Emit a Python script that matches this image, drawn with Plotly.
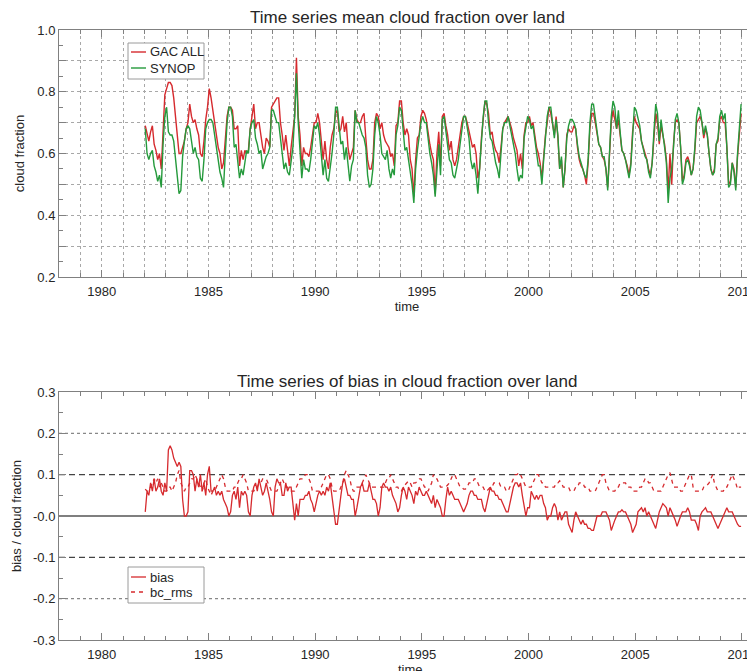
import plotly.graph_objects as go

# ---------------- data (monthly, Jan..Dec for each year) ----------------
YEARS = list(range(1982, 2010))

GAC_ALL = [
    0.69, 0.66, 0.64, 0.67, 0.69, 0.63, 0.61, 0.58, 0.60, 0.55, 0.70, 0.79,  # 1982
    0.81, 0.83, 0.83, 0.82, 0.78, 0.72, 0.66, 0.60, 0.60, 0.62, 0.64, 0.68,  # 1983
    0.70, 0.76, 0.72, 0.70, 0.71, 0.68, 0.66, 0.60, 0.59, 0.64, 0.71, 0.75,  # 1984
    0.81, 0.78, 0.74, 0.70, 0.66, 0.62, 0.60, 0.55, 0.57, 0.66, 0.72, 0.75,  # 1985
    0.75, 0.74, 0.68, 0.68, 0.69, 0.56, 0.61, 0.58, 0.61, 0.60, 0.61, 0.68,  # 1986
    0.72, 0.76, 0.68, 0.70, 0.70, 0.65, 0.62, 0.60, 0.65, 0.64, 0.62, 0.75,  # 1987
    0.76, 0.77, 0.78, 0.78, 0.70, 0.66, 0.61, 0.66, 0.60, 0.56, 0.62, 0.68,  # 1988
    0.72, 0.91, 0.72, 0.66, 0.56, 0.62, 0.60, 0.60, 0.59, 0.62, 0.66, 0.70,  # 1989
    0.70, 0.73, 0.70, 0.65, 0.58, 0.64, 0.58, 0.55, 0.62, 0.66, 0.68, 0.73,  # 1990
    0.74, 0.67, 0.68, 0.72, 0.67, 0.70, 0.62, 0.58, 0.60, 0.62, 0.74, 0.71,  # 1991
    0.70, 0.70, 0.72, 0.73, 0.65, 0.58, 0.55, 0.55, 0.58, 0.70, 0.73, 0.72,  # 1992
    0.68, 0.70, 0.66, 0.64, 0.63, 0.62, 0.59, 0.60, 0.56, 0.69, 0.70, 0.77,  # 1993
    0.77, 0.70, 0.66, 0.68, 0.66, 0.58, 0.55, 0.46, 0.58, 0.65, 0.66, 0.72,  # 1994
    0.74, 0.73, 0.71, 0.66, 0.63, 0.60, 0.58, 0.47, 0.60, 0.67, 0.56, 0.72,  # 1995
    0.73, 0.69, 0.66, 0.61, 0.64, 0.58, 0.56, 0.58, 0.62, 0.65, 0.70, 0.72,  # 1996
    0.72, 0.70, 0.67, 0.65, 0.62, 0.63, 0.60, 0.52, 0.55, 0.65, 0.72, 0.77,  # 1997
    0.76, 0.73, 0.66, 0.67, 0.63, 0.61, 0.60, 0.57, 0.62, 0.68, 0.70, 0.71,  # 1998
    0.72, 0.70, 0.68, 0.65, 0.63, 0.61, 0.56, 0.60, 0.55, 0.66, 0.70, 0.70,  # 1999
    0.72, 0.69, 0.70, 0.66, 0.62, 0.60, 0.57, 0.52, 0.60, 0.66, 0.70, 0.75,  # 2000
    0.73, 0.70, 0.66, 0.72, 0.65, 0.55, 0.58, 0.49, 0.55, 0.66, 0.68, 0.67,  # 2001
    0.67, 0.69, 0.68, 0.62, 0.58, 0.56, 0.55, 0.53, 0.50, 0.57, 0.68, 0.73,  # 2002
    0.73, 0.70, 0.66, 0.63, 0.62, 0.59, 0.58, 0.55, 0.49, 0.60, 0.70, 0.74,  # 2003
    0.71, 0.68, 0.71, 0.65, 0.61, 0.60, 0.58, 0.56, 0.53, 0.57, 0.67, 0.72,  # 2004
    0.70, 0.69, 0.68, 0.64, 0.62, 0.60, 0.58, 0.55, 0.53, 0.57, 0.65, 0.73,  # 2005
    0.70, 0.63, 0.69, 0.66, 0.63, 0.58, 0.48, 0.60, 0.50, 0.63, 0.70, 0.71,  # 2006
    0.70, 0.62, 0.51, 0.53, 0.58, 0.59, 0.57, 0.53, 0.55, 0.61, 0.70, 0.71,  # 2007
    0.72, 0.70, 0.65, 0.68, 0.66, 0.60, 0.55, 0.53, 0.55, 0.63, 0.64, 0.71,  # 2008
    0.72, 0.70, 0.70, 0.62, 0.50, 0.51, 0.57, 0.55, 0.49, 0.59, 0.67, 0.73,  # 2009
]

SYNOP = [
    0.68, 0.60, 0.58, 0.60, 0.61, 0.56, 0.54, 0.51, 0.53, 0.49, 0.63, 0.72,  # 1982
    0.75, 0.67, 0.66, 0.66, 0.64, 0.59, 0.54, 0.47, 0.48, 0.59, 0.64, 0.68,  # 1983
    0.69, 0.68, 0.64, 0.60, 0.62, 0.59, 0.58, 0.52, 0.51, 0.58, 0.68, 0.70,  # 1984
    0.71, 0.71, 0.70, 0.66, 0.62, 0.58, 0.54, 0.52, 0.49, 0.60, 0.70, 0.75,  # 1985
    0.75, 0.72, 0.62, 0.63, 0.58, 0.52, 0.55, 0.53, 0.57, 0.61, 0.60, 0.68,  # 1986
    0.70, 0.71, 0.65, 0.63, 0.60, 0.61, 0.55, 0.57, 0.59, 0.60, 0.62, 0.74,  # 1987
    0.74, 0.72, 0.70, 0.70, 0.65, 0.60, 0.55, 0.57, 0.54, 0.53, 0.58, 0.62,  # 1988
    0.72, 0.86, 0.70, 0.62, 0.52, 0.58, 0.55, 0.55, 0.54, 0.58, 0.63, 0.69,  # 1989
    0.68, 0.70, 0.66, 0.60, 0.53, 0.58, 0.52, 0.51, 0.55, 0.60, 0.66, 0.75,  # 1990
    0.75, 0.68, 0.63, 0.64, 0.58, 0.62, 0.56, 0.51, 0.56, 0.58, 0.74, 0.70,  # 1991
    0.70, 0.68, 0.66, 0.65, 0.62, 0.53, 0.49, 0.50, 0.55, 0.66, 0.72, 0.70,  # 1992
    0.66, 0.60, 0.59, 0.58, 0.61, 0.55, 0.52, 0.55, 0.53, 0.66, 0.69, 0.75,  # 1993
    0.74, 0.66, 0.61, 0.62, 0.58, 0.53, 0.50, 0.44, 0.55, 0.61, 0.65, 0.70,  # 1994
    0.72, 0.70, 0.70, 0.64, 0.60, 0.57, 0.53, 0.46, 0.55, 0.63, 0.53, 0.71,  # 1995
    0.72, 0.67, 0.63, 0.58, 0.57, 0.53, 0.52, 0.55, 0.58, 0.63, 0.68, 0.72,  # 1996
    0.72, 0.68, 0.65, 0.58, 0.55, 0.57, 0.53, 0.47, 0.55, 0.65, 0.72, 0.77,  # 1997
    0.77, 0.70, 0.65, 0.64, 0.60, 0.57, 0.55, 0.52, 0.60, 0.68, 0.70, 0.70,  # 1998
    0.72, 0.69, 0.66, 0.63, 0.60, 0.55, 0.51, 0.53, 0.52, 0.65, 0.68, 0.72,  # 1999
    0.71, 0.68, 0.69, 0.64, 0.60, 0.56, 0.56, 0.50, 0.58, 0.65, 0.72, 0.75,  # 2000
    0.75, 0.70, 0.65, 0.71, 0.66, 0.55, 0.59, 0.49, 0.55, 0.65, 0.69, 0.71,  # 2001
    0.71, 0.70, 0.68, 0.63, 0.59, 0.57, 0.55, 0.53, 0.52, 0.58, 0.70, 0.76,  # 2002
    0.76, 0.72, 0.67, 0.63, 0.62, 0.59, 0.59, 0.55, 0.48, 0.60, 0.72, 0.77,  # 2003
    0.75, 0.68, 0.74, 0.67, 0.61, 0.60, 0.58, 0.55, 0.52, 0.56, 0.68, 0.75,  # 2004
    0.74, 0.71, 0.69, 0.64, 0.61, 0.59, 0.58, 0.54, 0.52, 0.57, 0.67, 0.76,  # 2005
    0.73, 0.64, 0.71, 0.67, 0.62, 0.57, 0.44, 0.52, 0.55, 0.62, 0.71, 0.73,  # 2006
    0.70, 0.62, 0.50, 0.52, 0.57, 0.58, 0.56, 0.53, 0.55, 0.62, 0.72, 0.75,  # 2007
    0.74, 0.70, 0.66, 0.69, 0.66, 0.60, 0.55, 0.53, 0.54, 0.63, 0.65, 0.72,  # 2008
    0.74, 0.71, 0.73, 0.62, 0.49, 0.50, 0.57, 0.54, 0.48, 0.60, 0.69, 0.76,  # 2009
]

BIAS = [
    0.01, 0.06, 0.05, 0.08, 0.06, 0.09, 0.06, 0.07, 0.09, 0.06, 0.05, 0.08,  # 1982
    0.06, 0.16, 0.17, 0.16, 0.14, 0.13, 0.12, 0.13, 0.12, 0.04, 0.00, 0.00,  # 1983
    0.01, 0.11, 0.11, 0.10, 0.06, 0.09, 0.07, 0.10, 0.06, 0.08, 0.05, 0.10,  # 1984
    0.12, 0.06, 0.06, 0.07, 0.05, 0.06, 0.05, 0.06, 0.04, 0.03, 0.02, 0.00,  # 1985
    0.01, 0.05, 0.06, 0.04, 0.07, 0.02, 0.06, 0.05, 0.06, 0.05, 0.01, 0.00,  # 1986
    0.05, 0.07, 0.08, 0.06, 0.09, 0.07, 0.05, 0.06, 0.08, 0.06, 0.04, 0.01,  # 1987
    0.00, 0.07, 0.09, 0.08, 0.08, 0.05, 0.05, 0.08, 0.06, 0.07, 0.07, 0.03,  # 1988
    -0.01, 0.03, 0.00, 0.04, 0.04, 0.04, 0.05, 0.05, 0.06, 0.04, 0.03, 0.01,  # 1989
    0.03, 0.05, 0.06, 0.05, 0.06, 0.05, 0.07, 0.06, 0.08, 0.05, 0.02, -0.02,  # 1990
    -0.02, 0.02, 0.05, 0.08, 0.09, 0.07, 0.05, 0.05, 0.04, 0.04, 0.00, 0.02,  # 1991
    0.05, 0.07, 0.08, 0.06, 0.06, 0.06, 0.08, 0.06, 0.04, 0.04, 0.03, 0.00,  # 1992
    0.02, 0.07, 0.08, 0.07, 0.07, 0.06, 0.07, 0.05, 0.04, 0.03, 0.01, 0.02,  # 1993
    0.05, 0.07, 0.06, 0.04, 0.07, 0.06, 0.05, 0.03, 0.06, 0.05, 0.07, 0.06,  # 1994
    0.05, 0.05, 0.06, 0.05, 0.04, 0.03, 0.05, 0.02, 0.04, 0.03, 0.02, 0.00,  # 1995
    0.00, 0.04, 0.07, 0.05, 0.06, 0.05, 0.04, 0.04, 0.04, 0.03, 0.02, 0.01,  # 1996
    0.02, 0.03, 0.05, 0.06, 0.06, 0.05, 0.05, 0.04, 0.04, 0.04, 0.02, 0.01,  # 1997
    0.03, 0.05, 0.07, 0.06, 0.06, 0.05, 0.05, 0.04, 0.04, 0.03, 0.02, 0.01,  # 1998
    0.01, 0.03, 0.05, 0.07, 0.08, 0.08, 0.07, 0.08, 0.05, 0.02, 0.00, 0.02,  # 1999
    0.02, 0.06, 0.05, 0.04, 0.05, 0.04, 0.05, 0.05, 0.03, 0.02, -0.01, 0.00,  # 2000
    0.00, 0.02, 0.03, 0.02, -0.01, 0.01, -0.01, 0.00, 0.01, 0.01, -0.02, -0.03,  # 2001
    -0.04, -0.01, 0.01, 0.00, -0.01, -0.02, -0.01, -0.02, -0.02, -0.03, -0.03, -0.035,  # 2002
    -0.035, -0.02, 0.00, 0.00, 0.00, 0.01, 0.01, 0.01, 0.00, -0.01, -0.035, -0.02,  # 2003
    -0.01, 0.00, 0.01, 0.01, 0.015, 0.01, 0.01, 0.00, -0.01, -0.02, -0.04, -0.03,  # 2004
    -0.02, 0.01, 0.015, 0.02, 0.01, 0.02, 0.00, 0.01, 0.00, -0.01, -0.02, -0.03,  # 2005
    -0.01, 0.01, 0.02, 0.03, 0.025, 0.02, 0.00, 0.02, 0.01, 0.00, -0.01, -0.025,  # 2006
    -0.01, 0.00, 0.01, 0.01, 0.01, 0.02, 0.01, -0.01, -0.01, -0.01, -0.02, -0.035,  # 2007
    0.00, 0.01, 0.015, 0.02, 0.01, 0.01, 0.01, 0.00, -0.01, -0.02, -0.03, -0.02,  # 2008
    -0.01, 0.00, 0.01, 0.02, 0.01, 0.01, 0.01, 0.00, -0.01, -0.02, -0.025, -0.025,  # 2009
]

BC_RMS = [
    0.065, 0.06, 0.06, 0.07, 0.08, 0.09, 0.08, 0.09, 0.07, 0.08, 0.07, 0.06,  # 1982
    0.06, 0.07, 0.07, 0.06, 0.07, 0.08, 0.10, 0.11, 0.08, 0.07, 0.06, 0.07,  # 1983
    0.07, 0.08, 0.09, 0.09, 0.10, 0.09, 0.08, 0.07, 0.06, 0.08, 0.09, 0.07,  # 1984
    0.06, 0.05, 0.06, 0.06, 0.07, 0.08, 0.09, 0.10, 0.09, 0.07, 0.06, 0.06,  # 1985
    0.06, 0.06, 0.07, 0.07, 0.08, 0.09, 0.09, 0.10, 0.09, 0.08, 0.06, 0.06,  # 1986
    0.06, 0.06, 0.07, 0.07, 0.08, 0.08, 0.09, 0.09, 0.09, 0.08, 0.07, 0.06,  # 1987
    0.06, 0.06, 0.06, 0.07, 0.08, 0.09, 0.08, 0.07, 0.07, 0.06, 0.06, 0.06,  # 1988
    0.06, 0.07, 0.08, 0.09, 0.09, 0.09, 0.10, 0.10, 0.09, 0.08, 0.06, 0.06,  # 1989
    0.06, 0.06, 0.06, 0.07, 0.08, 0.09, 0.10, 0.10, 0.09, 0.07, 0.06, 0.06,  # 1990
    0.06, 0.06, 0.07, 0.08, 0.10, 0.11, 0.10, 0.09, 0.07, 0.06, 0.06, 0.07,  # 1991
    0.07, 0.07, 0.08, 0.09, 0.10, 0.09, 0.08, 0.07, 0.07, 0.07, 0.07, 0.07,  # 1992
    0.07, 0.07, 0.07, 0.08, 0.09, 0.09, 0.10, 0.09, 0.08, 0.07, 0.07, 0.06,  # 1993
    0.06, 0.07, 0.075, 0.08, 0.085, 0.08, 0.07, 0.08, 0.08, 0.085, 0.09, 0.09,  # 1994
    0.08, 0.07, 0.07, 0.06, 0.07, 0.08, 0.10, 0.09, 0.09, 0.08, 0.07, 0.07,  # 1995
    0.07, 0.07, 0.075, 0.08, 0.09, 0.10, 0.10, 0.09, 0.08, 0.07, 0.07, 0.065,  # 1996
    0.065, 0.07, 0.08, 0.08, 0.08, 0.09, 0.09, 0.08, 0.07, 0.07, 0.07, 0.06,  # 1997
    0.06, 0.065, 0.07, 0.07, 0.08, 0.08, 0.08, 0.08, 0.07, 0.07, 0.07, 0.06,  # 1998
    0.06, 0.07, 0.08, 0.09, 0.10, 0.10, 0.105, 0.10, 0.09, 0.08, 0.07, 0.07,  # 1999
    0.07, 0.07, 0.08, 0.09, 0.10, 0.10, 0.09, 0.08, 0.08, 0.07, 0.07, 0.07,  # 2000
    0.07, 0.07, 0.07, 0.08, 0.08, 0.085, 0.08, 0.07, 0.07, 0.07, 0.07, 0.06,  # 2001
    0.06, 0.06, 0.07, 0.07, 0.08, 0.08, 0.08, 0.07, 0.07, 0.07, 0.06, 0.06,  # 2002
    0.06, 0.06, 0.07, 0.08, 0.09, 0.10, 0.10, 0.08, 0.07, 0.06, 0.06, 0.06,  # 2003
    0.06, 0.07, 0.07, 0.08, 0.08, 0.08, 0.08, 0.07, 0.07, 0.07, 0.06, 0.06,  # 2004
    0.06, 0.06, 0.07, 0.07, 0.08, 0.09, 0.09, 0.08, 0.08, 0.07, 0.06, 0.06,  # 2005
    0.06, 0.06, 0.06, 0.07, 0.08, 0.09, 0.10, 0.105, 0.09, 0.07, 0.07, 0.07,  # 2006
    0.07, 0.06, 0.06, 0.07, 0.08, 0.09, 0.10, 0.10, 0.07, 0.06, 0.06, 0.06,  # 2007
    0.06, 0.06, 0.07, 0.07, 0.075, 0.08, 0.09, 0.10, 0.08, 0.07, 0.06, 0.06,  # 2008
    0.06, 0.06, 0.07, 0.07, 0.08, 0.09, 0.10, 0.09, 0.08, 0.065, 0.07, 0.07,  # 2009
]

TOP_TICKVALS = [0.2, 0.3, 0.4, 0.5, 0.6, 0.7, 0.8, 0.9, 1.0]
TOP_TICKTEXT = ["0.2", "", "0.4", "", "0.6", "", "0.8", "", "1.0"]
BOT_TICKVALS = [-0.3, -0.2, -0.1, 0.0, 0.1, 0.2, 0.3]
BOT_TICKTEXT = ["-0.3", "-0.2", "-0.1", "-0.0", "0.1", "0.2", "0.3"]
REF_LEVELS = [-0.2, -0.1, 0.0, 0.1, 0.2]

# decimal-year time axis (mid-month)
t = [y + (m + 0.5) / 12.0 for y in YEARS for m in range(12)]

RED = "#d62a2e"
GREEN = "#259a3c"
FONT = "Liberation Sans, Arial, sans-serif"
TXT = "#262626"
GRID = "#a8a8a8"
AXLINE = "#808080"

# the page body has an 8 px margin, so the figure is 8 px smaller on each axis
OFF = 8
W, H = 755 - OFF, 671 - OFF


def px(x):
    return (x - OFF) / W


def py(y):
    return 1 - (y - OFF) / H


X0 = px(59)
XRANGE = [1978.0, 2010.61]
TOP_DOM = [py(277), py(30)]
BOT_DOM = [py(640), py(392)]

LINE_GAC = dict(color=RED, width=1.4)
LINE_SYN = dict(color=GREEN, width=1.4)
LINE_BIAS = dict(color=RED, width=1.3)
LINE_RMS = dict(color=RED, width=1.3, dash="4px,4px")

fig = go.Figure()
fig.add_trace(go.Scatter(x=t, y=GAC_ALL, mode="lines", name="GAC ALL",
                         line=LINE_GAC, xaxis="x", yaxis="y"))
fig.add_trace(go.Scatter(x=t, y=SYNOP, mode="lines", name="SYNOP",
                         line=LINE_SYN, xaxis="x", yaxis="y"))
fig.add_trace(go.Scatter(x=t, y=BIAS, mode="lines", name="bias",
                         line=LINE_BIAS, xaxis="x2", yaxis="y2"))
fig.add_trace(go.Scatter(x=t, y=BC_RMS, mode="lines", name="bc_rms",
                         line=LINE_RMS, xaxis="x2", yaxis="y2"))

tickfont = dict(family=FONT, size=13, color=TXT)

common_x = dict(
    domain=[X0, 1], range=XRANGE, tickmode="linear", tick0=1980, dtick=5,
    ticks="inside", ticklen=7, tickcolor=AXLINE, showline=True, linecolor=AXLINE,
    linewidth=1, mirror="ticks", tickfont=tickfont, ticklabeloverflow="allow",
    ticklabelstandoff=2, zeroline=False, automargin=False,
)

common_y = dict(
    tickmode="array", ticks="inside", ticklen=7, tickcolor=AXLINE,
    showline=True, linecolor=AXLINE, linewidth=1, zeroline=False,
    automargin=False, tickfont=tickfont,
    minor=dict(tick0=0, dtick=0.05, ticks="inside", ticklen=4,
               tickcolor=AXLINE, showgrid=False),
)

fig.update_layout(
    template="none",
    width=W, height=H,
    margin=dict(l=0, r=0, t=0, b=0, pad=0),
    paper_bgcolor="white", plot_bgcolor="white",
    font=dict(family=FONT, size=13, color=TXT),
    showlegend=False,
    xaxis=dict(**common_x, anchor="y", showgrid=True, gridcolor=GRID,
               griddash="dot", gridwidth=1,
               title=dict(text="time", font=tickfont, standoff=1),
               minor=dict(tick0=1980, dtick=1, ticks="inside", ticklen=4,
                          tickcolor=AXLINE, showgrid=True, gridcolor=GRID,
                          griddash="dot", gridwidth=1)),
    yaxis=dict(**common_y, domain=TOP_DOM, range=[0.2, 1.0], anchor="x",
               tickvals=TOP_TICKVALS, ticktext=TOP_TICKTEXT,
               showgrid=True, gridcolor=GRID, griddash="dot", gridwidth=1,
               title=dict(text="cloud fraction", font=tickfont, standoff=9)),
    xaxis2=dict(**common_x, anchor="y2", showgrid=False,
                minor=dict(tick0=1980, dtick=1, ticks="inside", ticklen=4,
                           tickcolor=AXLINE, showgrid=False)),
    yaxis2=dict(**common_y, domain=BOT_DOM, range=[-0.3, 0.3], anchor="x2",
                tickvals=BOT_TICKVALS, ticktext=BOT_TICKTEXT, showgrid=False,
                title=dict(text="bias / cloud fraction", font=tickfont, standoff=8)),
)

annotations = [
    dict(text="Time series mean cloud fraction over land", xref="paper",
         yref="paper", x=(X0 + 1) / 2, y=py(18), showarrow=False,
         xanchor="center", yanchor="middle",
         font=dict(family=FONT, size=17, color=TXT)),
    dict(text="Time series of bias in cloud fraction over land", xref="paper",
         yref="paper", x=(X0 + 1) / 2, y=py(381), showarrow=False,
         xanchor="center", yanchor="middle",
         font=dict(family=FONT, size=17, color=TXT)),
    # bottom-panel x-axis title sits at the lower edge of the picture
    dict(text="time", xref="paper", yref="paper", x=px(410), y=py(660),
         showarrow=False, xanchor="center", yanchor="top",
         font=tickfont),
]

# reference lines in the bias panel
for lev in REF_LEVELS:
    if lev == 0.0:
        style = dict(color="#555555", width=1.3, dash="solid")
    elif abs(lev) < 0.15:
        style = dict(color="#444444", width=1.2, dash="6px,4px")
    else:
        style = dict(color="#888888", width=1.2, dash="dot")
    fig.add_shape(type="line", xref="x2 domain", yref="y2", x0=0, x1=1,
                  y0=lev, y1=lev, line=style, layer="below")

# compact IDL-style legend boxes (box, line sample, label)
LEGENDS = [
    (43, 79, [("GAC ALL", LINE_GAC, 52), ("SYNOP", LINE_SYN, 68)]),
    (567, 603, [("bias", LINE_BIAS, 577), ("bc_rms", LINE_RMS, 592)]),
]
for top, bottom, entries in LEGENDS:
    fig.add_shape(type="rect", xref="paper", yref="paper",
                  x0=px(128), x1=px(204), y0=py(bottom), y1=py(top),
                  line=dict(color="#9a9a9a", width=1), fillcolor="white",
                  layer="above")
    for label, style, yc in entries:
        fig.add_shape(type="line", xref="paper", yref="paper",
                      x0=px(131), x1=px(146), y0=py(yc), y1=py(yc),
                      line=style, layer="above")
        annotations.append(dict(text=label, xref="paper", yref="paper",
                                x=px(148), y=py(yc), xanchor="left",
                                yanchor="middle", showarrow=False,
                                font=dict(family=FONT, size=13, color=TXT)))

fig.update_layout(annotations=annotations)

fig.write_html("out.html")
